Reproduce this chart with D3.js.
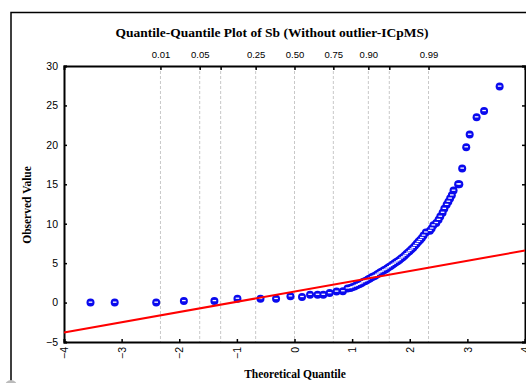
<!DOCTYPE html>
<html><head><meta charset="utf-8">
<script src="https://cdn.jsdelivr.net/npm/d3@7"></script>
<style>body{margin:0;background:#fff;}svg{display:block;}</style>
</head><body>
<svg id="c" width="526" height="383"></svg>
<script>
// ---- data ----
const title = "Quantile-Quantile Plot of Sb (Without outlier-ICpMS)";
const xTicks = [-4, -3, -2, -1, 0, 1, 2, 3, 4];
const yTicks = [-5, 0, 5, 10, 15, 20, 25, 30];
const probLabels = ["0.01", "0.05", "", "0.25", "0.50", "0.75", "0.90", "", "0.99"];
const probZ = [-2.326, -1.645, -1.2816, -0.674, 0, 0.674, 1.2816, 1.645, 2.326];
const theoQ = [-3.54, -3.12, -2.40, -1.92, -1.39, -0.99, -0.59, -0.32, -0.07, 0.13, 0.27, 0.40, 0.50, 0.61, 0.73, 0.84, 0.92,
  0.97, 1.00, 1.04, 1.07, 1.10, 1.13, 1.16, 1.19, 1.22, 1.25, 1.28, 1.31, 1.34, 1.37, 1.40, 1.43, 1.46, 1.49, 1.52, 1.55,
  1.58, 1.61, 1.64, 1.67, 1.70, 1.73, 1.76, 1.79, 1.82, 1.85, 1.88, 1.91, 1.94, 1.97, 2.00, 2.03, 2.06, 2.09, 2.12, 2.15,
  2.18, 2.21, 2.24, 2.28, 2.35, 2.38, 2.41, 2.46, 2.50, 2.53, 2.57, 2.60, 2.64, 2.67, 2.70, 2.73, 2.76, 2.84, 2.86,
  2.91, 2.98, 3.04, 3.16, 3.29, 3.56];
const observed = [0, 0, 0, 0.2, 0.2, 0.5, 0.47, 0.47, 0.8, 0.72, 1.0, 1.0, 1.0, 1.2, 1.4, 1.45, 1.8,
  1.85, 1.95, 2.05, 2.15, 2.25, 2.35, 2.45, 2.6, 2.7, 2.8, 2.95, 3.05, 3.2, 3.3, 3.4, 3.55, 3.7, 3.85, 3.95, 4.1,
  4.2, 4.35, 4.5, 4.65, 4.8, 4.95, 5.1, 5.25, 5.4, 5.6, 5.75, 5.95, 6.15, 6.35, 6.55, 6.75, 6.95, 7.2, 7.45, 7.7,
  7.95, 8.2, 8.5, 8.9, 9.1, 9.4, 9.8, 10.1, 10.5, 10.9, 11.4, 11.9, 12.4, 12.8, 13.2, 13.6, 14.2, 15.0, 15.0,
  17.0, 19.7, 21.3, 23.5, 24.3, 27.4];
const refLineX = [-4, 4];
const refLineY = [-3.8, 6.6];

// ---- chart ----
const svg = d3.select("#c");
const L = 64, R = 525, T = 66, B = 342;
const x = d3.scaleLinear().domain([-4, 4]).range([L, R]);
const y = d3.scaleLinear().domain([-5, 30]).range([B, T]);
const sans = "'Liberation Sans', Arial, sans-serif";
const serif = "'Liberation Serif', 'Times New Roman', serif";

// outer frame
svg.append("rect").attr("x", 11).attr("y", 12.5).attr("width", 600).attr("height", 500)
  .attr("fill", "none").attr("stroke", "#000").attr("stroke-width", 1.5);
svg.append("circle").attr("cx", 11).attr("cy", 386).attr("r", 6).attr("fill", "#bbb");

// title
svg.append("text").attr("x", 272).attr("y", 37).attr("text-anchor", "middle")
  .attr("font-family", serif).attr("font-weight", "bold").attr("font-size", 13.5).text(title);

// grid lines
svg.append("g").selectAll("line").data(probZ).join("line")
  .attr("x1", d => x(d)).attr("x2", d => x(d)).attr("y1", T).attr("y2", B)
  .attr("stroke", "#c8c8c8").attr("stroke-width", 1).attr("stroke-dasharray", "3,2");

// axes
const axFont = g => g.selectAll("text").attr("font-family", sans).attr("font-size", 10.5).attr("fill", "#000");
const yl = svg.append("g").attr("transform", `translate(${L},0)`)
  .call(d3.axisLeft(y).tickValues(yTicks).tickSize(-3).tickPadding(6).tickFormat(d3.format("d")));
yl.call(axFont);
const yr = svg.append("g").attr("transform", `translate(${R},0)`)
  .call(d3.axisRight(y).tickValues(yTicks).tickSize(-3).tickFormat(""));
const xb = svg.append("g").attr("transform", `translate(0,${B})`)
  .call(d3.axisBottom(x).tickValues(xTicks).tickSize(-3).tickFormat(d3.format("d")));
xb.call(axFont);
xb.selectAll("text").attr("transform", "rotate(-90)").attr("text-anchor", "end")
  .attr("x", -5).attr("y", 0).attr("dy", "0.35em");
const xt = svg.append("g").attr("transform", `translate(0,${T})`)
  .call(d3.axisTop(x).tickValues(probZ).tickSize(-4).tickPadding(8).tickFormat((d, i) => probLabels[i]));
xt.call(axFont);
xt.selectAll("text").attr("font-size", 9.5);
[yl, yr, xb, xt].forEach(g => {
  g.select(".domain").attr("stroke", "#000").attr("stroke-width", 2);
  g.selectAll(".tick line").attr("stroke", "#000").attr("stroke-width", 1.5);
});

// axis titles
svg.append("text").attr("transform", "translate(31,205) rotate(-90)").attr("text-anchor", "middle")
  .attr("font-family", serif).attr("font-weight", "bold").attr("font-size", 11.5).text("Observed Value");
svg.append("text").attr("x", 295).attr("y", 378).attr("text-anchor", "middle")
  .attr("font-family", serif).attr("font-weight", "bold").attr("font-size", 11.5).text("Theoretical Quantile");

// points
const pts = theoQ.map((q, i) => ({q, v: observed[i]}));
const pg = svg.append("g");
pg.selectAll("circle").data(pts).join("circle")
  .attr("cx", d => x(d.q)).attr("cy", d => y(d.v)).attr("r", 4).attr("fill", "#0a0aee");
pg.selectAll("line").data(pts).join("line")
  .attr("x1", d => x(d.q) - 1.8).attr("x2", d => x(d.q) + 1.8)
  .attr("y1", d => y(d.v) - 0.4).attr("y2", d => y(d.v) - 0.4)
  .attr("stroke", "#fff").attr("stroke-width", 1.3);

// reference line
svg.append("line").attr("x1", x(refLineX[0])).attr("y1", y(refLineY[0]))
  .attr("x2", x(refLineX[1])).attr("y2", y(refLineY[1]))
  .attr("stroke", "#ff0000").attr("stroke-width", 2);
</script>
</body></html>
